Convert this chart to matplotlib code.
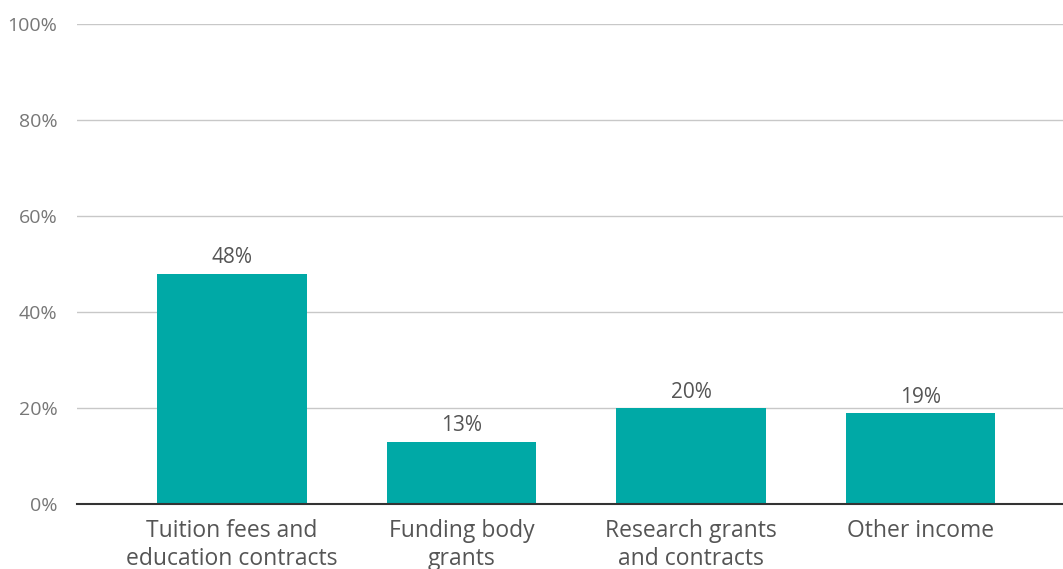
import matplotlib
matplotlib.use('Agg')
import matplotlib.pyplot as plt
import numpy as np

categories = ['Tuition fees and\neducation contracts', 'Funding body\ngrants',
              'Research grants\nand contracts', 'Other income']
values = [48, 13, 20, 19]
yticks = [0, 20, 40, 60, 80, 100]

plt.rcParams['font.family'] = ['Open Sans', 'DejaVu Sans']

fig = plt.figure(figsize=(10.63, 5.69), dpi=100)
ax = fig.add_axes([77/1063, 65/569, 986/1063, 480/569])

x = np.arange(len(categories))
ax.bar(x, values, width=0.65, color='#00a9a6', zorder=3)
for xi, v in zip(x, values):
    ax.text(xi, v + 1.1, f'{v}%', ha='center', va='bottom', fontsize=15, color='#555555')

ax.set_xlim(-0.675, 3.62)
ax.set_ylim(0, 100)
ax.set_yticks(yticks)
ax.set_yticklabels([f'{t}%' for t in yticks])
ax.set_xticks(x)
ax.set_xticklabels(categories, linespacing=1.2)
ax.grid(axis='y', color='#c8c8c8', linewidth=1, zorder=0)
ax.tick_params(axis='y', length=0, pad=14, labelsize=14, labelcolor='#777777')
ax.tick_params(axis='x', length=0, pad=11, labelsize=16.5, labelcolor='#555555')
for s in ['top', 'right', 'left']:
    ax.spines[s].set_visible(False)
ax.spines['bottom'].set_color('#333333')
ax.spines['bottom'].set_linewidth(1.5)
ax.spines['bottom'].set_zorder(4)

fig.savefig('out.png', dpi=100)
